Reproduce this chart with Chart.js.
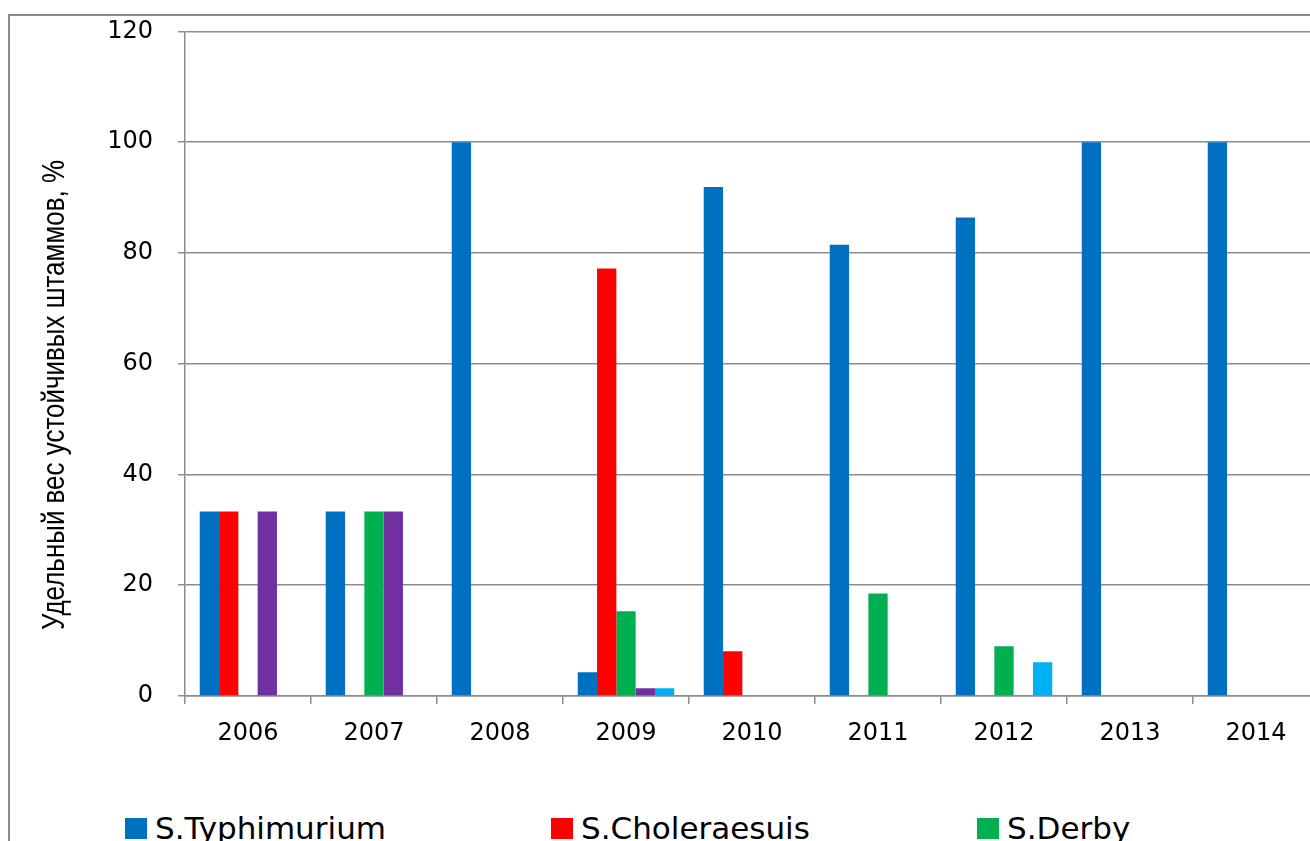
<!DOCTYPE html>
<html>
<head>
<meta charset="utf-8">
<title>Удельный вес устойчивых штаммов</title>
<script src="https://cdn.jsdelivr.net/npm/chart.js"></script>
<style>
  body { margin: 0; overflow: hidden; background: #fff; }
  #frame {
    position: absolute; left: 8px; top: 14px;
    width: 1400px; height: 900px;
    border: 2px solid #8a8a8a;
  }
  #resistChart { position: absolute; left: 0; top: -24px; }
  #legend {
    position: absolute; left: 115px; top: 794px;
    display: flex;
    font-family: "DejaVu Sans", Verdana, sans-serif;
    font-size: 31px; color: #000;
  }
  #legend .item { width: 426px; display: flex; align-items: center; }
  #legend .box { width: 22px; height: 21px; margin-right: 8px; }
</style>
</head>
<body>
<div id="frame">
  <canvas id="resistChart" width="1320" height="784"></canvas>
  <div id="legend"></div>
</div>

<script>
  // years and share of resistant strains per serovar, %
  const years = ['2006', '2007', '2008', '2009', '2010', '2011', '2012', '2013', '2014'];
  const typhimurium  = [33.3, 33.3, 100, 4.3, 91.9, 81.5, 86.4, 100, 100];
  const choleraesuis = [33.3, 0, 0, 77.2, 8.1, 0, 0, 0, 0];
  const derby        = [0, 33.3, 0, 15.3, 0, 18.5, 9.0, 0, 0];
  const series4      = [33.3, 33.3, 0, 1.4, 0, 0, 0, 0, 0];
  const series5      = [0, 0, 0, 1.4, 0, 0, 6.1, 0, 0];
  const yTicks = [0, 20, 40, 60, 80, 100, 120];

  const gridGray = '#8c8c8c';
  const tickFont = { family: 'DejaVu Sans', size: 24 };

  const datasets = [
    { label: 'S.Typhimurium', data: typhimurium, backgroundColor: '#0070C0' },
    { label: 'S.Choleraesuis', data: choleraesuis, backgroundColor: '#FF0000' },
    { label: 'S.Derby', data: derby, backgroundColor: '#00B050' },
    { label: 'Ряд 4', data: series4, backgroundColor: '#7030A0' },
    { label: 'Ряд 5', data: series5, backgroundColor: '#00B0F0' }
  ];

  // vertical axis caption, drawn by hand: narrow lettering, a bit below center
  const yCaption = {
    id: 'yCaption',
    afterDraw(chart) {
      const ctx = chart.ctx;
      const text = 'Удельный вес устойчивых штаммов, %';
      ctx.save();
      ctx.translate(45, 403);
      ctx.rotate(-Math.PI / 2);
      ctx.font = '32px "Liberation Sans", Arial, sans-serif';
      const w = ctx.measureText(text).width;
      ctx.scale(470 / w, 1);
      ctx.fillStyle = '#000';
      ctx.textAlign = 'center';
      ctx.textBaseline = 'middle';
      ctx.fillText(text, 0, 0);
      ctx.restore();
    }
  };

  new Chart(document.getElementById('resistChart').getContext('2d'), {
    type: 'bar',
    data: { labels: years, datasets: datasets },
    options: {
      responsive: false,
      animation: false,
      layout: { padding: { top: 14, right: 11, left: 0, bottom: 0 } },
      datasets: {
        bar: { categoryPercentage: 0.766, barPercentage: 1.0, borderWidth: 0 }
      },
      plugins: {
        legend: { display: false },
        tooltip: { enabled: false }
      },
      scales: {
        x: {
          grid: {
            offset: true,
            drawOnChartArea: false,
            drawTicks: true,
            tickLength: 8,
            color: gridGray,
            lineWidth: 1.5
          },
          border: { color: gridGray, width: 1.5 },
          ticks: { color: '#000', font: tickFont, padding: 15, maxRotation: 0 },
          afterFit(scale) { scale.height = 80; }
        },
        y: {
          min: 0,
          max: 120,
          afterBuildTicks(scale) { scale.ticks = yTicks.map(v => ({ value: v })); },
          grid: { color: gridGray, lineWidth: 1.5, tickLength: 7 },
          border: { color: gridGray, width: 1.5 },
          ticks: { color: '#000', font: tickFont, padding: 25 },
          afterFit(scale) { scale.width = 175; }
        }
      }
    },
    plugins: [yCaption]
  });

  // legend row under the plot (first three serovars)
  const legendEl = document.getElementById('legend');
  datasets.slice(0, 3).forEach(ds => {
    const item = document.createElement('div');
    item.className = 'item';
    item.innerHTML = '<span class="box" style="background:' + ds.backgroundColor + '"></span>' + ds.label;
    legendEl.appendChild(item);
  });
</script>
</body>
</html>
